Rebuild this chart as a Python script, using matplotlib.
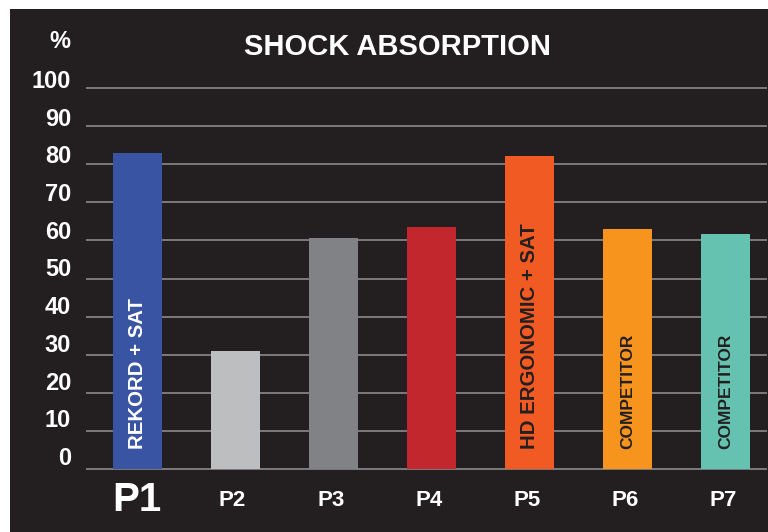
import matplotlib
matplotlib.use("Agg")
import matplotlib.pyplot as plt
from matplotlib.patches import Rectangle
from matplotlib.transforms import offset_copy

# data
products = ["P1", "P2", "P3", "P4", "P5", "P6", "P7"]
absorption = [83, 31, 60.7, 63.5, 82.2, 63, 61.7]
bar_colors = ["#3a54a4", "#bcbec0", "#808285", "#c1272d", "#f15a22", "#f7941d", "#66c2b0"]
bar_texts = ["REKORD + SAT", "", "", "", "HD ERGONOMIC + SAT", "COMPETITOR", "COMPETITOR"]
bar_text_colors = ["white", "white", "white", "white", "#231f20", "#231f20", "#231f20"]
yticks = [0, 10, 20, 30, 40, 50, 60, 70, 80, 90, 100]

BG = "#231f20"
NARROW = ["Liberation Sans Narrow", "Liberation Sans", "DejaVu Sans"]
BOLD = ["Liberation Sans", "DejaVu Sans"]

W, H = 768, 532
fig = plt.figure(figsize=(W / 100, H / 100), dpi=100)
fig.patch.set_facecolor("white")
fig.add_artist(Rectangle((10 / W, 0), (W - 10) / W, (H - 9) / H,
                         transform=fig.transFigure, facecolor=BG, edgecolor="none", zorder=0))

ax = fig.add_axes([86 / W, (H - 469) / H, 681 / W, 381 / H])
ax.set_facecolor("none")
ax.set_xlim(-0.526, 6.42)
ax.set_ylim(0, 100)
for s in ax.spines.values():
    s.set_visible(False)
ax.set_xticks([])
ax.set_yticks([])

# grid lines
ax.hlines(yticks, -0.526, 6.42, colors="#8a8a8c", linewidth=1.2, zorder=1, clip_on=False)

x = range(len(products))
ax.bar(x, absorption, width=0.5, color=bar_colors, zorder=2)

# labels inside the bars
for i, (t, c) in enumerate(zip(bar_texts, bar_text_colors)):
    if not t:
        continue
    size = 12.5 if t == "COMPETITOR" else 14.7
    ax.text(i, 5.2, t, rotation=90, ha="center", va="bottom", color=c,
            fontsize=size, fontweight="bold", family=NARROW, zorder=3)

# y labels (sit slightly above their grid lines)
for v in yticks:
    ax.text(-0.545, v, str(v), ha="right", va="center", color="white",
            fontsize=17, fontweight="bold", family=BOLD, clip_on=False,
            transform=offset_copy(ax.transData, fig=fig, x=-13, y=10.5 - v * 0.04, units="dots"))
fig.text(70 / W, 1 - 42 / H, "%", ha="right", va="center", color="white",
         fontsize=17, fontweight="bold", family=BOLD)

# x labels
for i, p in enumerate(products):
    if i == 0:
        fig.text(137 / W, 1 - 500 / H, p, ha="center", va="center", color="white",
                 fontsize=29, fontweight="bold", family=NARROW)
    else:
        ax.text(i, 0, p, ha="center", va="center", color="white", fontsize=16,
                fontweight="bold", family=BOLD, clip_on=False,
                transform=offset_copy(ax.transData, fig=fig, x=-3, y=-32, units="dots"))

fig.text(397 / W, 1 - 47 / H, "SHOCK ABSORPTION", ha="center", va="center",
         color="white", fontsize=21, fontweight="bold", family=BOLD)

fig.savefig("out.png", dpi=100, facecolor=fig.get_facecolor())
